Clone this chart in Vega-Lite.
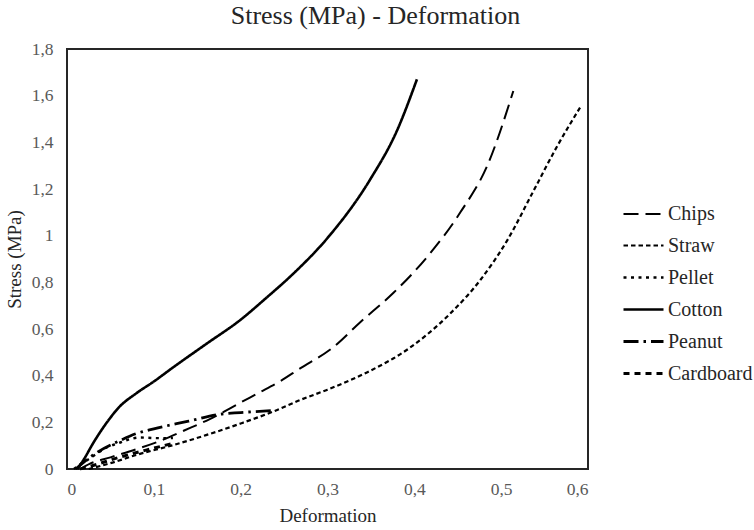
{
  "$schema": "https://vega.github.io/schema/vega-lite/v6.json",
  "width": 521,
  "height": 420,
  "autosize": {"type": "none"},
  "padding": {"left": 67, "top": 49, "right": 166, "bottom": 61},
  "background": "white",
  "title": {"text": "Stress (MPa) - Deformation", "font": "Liberation Serif", "fontSize": 26, "fontWeight": "normal", "color": "#262626", "anchor": "middle", "dx": 48, "offset": 11},
  "config": {
    "view": {"stroke": "#262626", "strokeWidth": 2},
    "axis": {"grid": false, "domain": false, "ticks": false, "labelFont": "Liberation Serif", "labelFontSize": 17.5, "labelColor": "#595959", "titleFont": "Liberation Serif", "titleFontSize": 19, "titleFontWeight": "normal", "titleColor": "#262626"},
    "legend": {"labelFont": "Liberation Serif", "labelFontSize": 20, "labelColor": "#262626"}
  },
  "data": {"values": [
    {"s":"Chips","d":0.015,"v":0.0},{"s":"Chips","d":0.026,"v":0.022},{"s":"Chips","d":0.05,"v":0.05},{"s":"Chips","d":0.08,"v":0.085},{"s":"Chips","d":0.107,"v":0.12},{"s":"Chips","d":0.135,"v":0.165},{"s":"Chips","d":0.165,"v":0.215},{"s":"Chips","d":0.2,"v":0.285},{"s":"Chips","d":0.22,"v":0.325},{"s":"Chips","d":0.245,"v":0.375},{"s":"Chips","d":0.268,"v":0.43},{"s":"Chips","d":0.306,"v":0.52},{"s":"Chips","d":0.338,"v":0.63},{"s":"Chips","d":0.376,"v":0.755},{"s":"Chips","d":0.415,"v":0.91},{"s":"Chips","d":0.453,"v":1.1},{"s":"Chips","d":0.484,"v":1.3},{"s":"Chips","d":0.514,"v":1.62},
    {"s":"Straw","d":0.025,"v":0.0},{"s":"Straw","d":0.05,"v":0.025},{"s":"Straw","d":0.084,"v":0.065},{"s":"Straw","d":0.12,"v":0.1},{"s":"Straw","d":0.16,"v":0.145},{"s":"Straw","d":0.2,"v":0.195},{"s":"Straw","d":0.24,"v":0.25},{"s":"Straw","d":0.268,"v":0.295},{"s":"Straw","d":0.3,"v":0.34},{"s":"Straw","d":0.346,"v":0.415},{"s":"Straw","d":0.395,"v":0.52},{"s":"Straw","d":0.441,"v":0.665},{"s":"Straw","d":0.476,"v":0.81},{"s":"Straw","d":0.507,"v":0.98},{"s":"Straw","d":0.537,"v":1.19},{"s":"Straw","d":0.564,"v":1.38},{"s":"Straw","d":0.591,"v":1.55},
    {"s":"Pellet","d":0.008,"v":0.0},{"s":"Pellet","d":0.015,"v":0.02},{"s":"Pellet","d":0.024,"v":0.04},{"s":"Pellet","d":0.036,"v":0.07},{"s":"Pellet","d":0.047,"v":0.095},{"s":"Pellet","d":0.059,"v":0.11},{"s":"Pellet","d":0.07,"v":0.125},{"s":"Pellet","d":0.084,"v":0.135},{"s":"Pellet","d":0.098,"v":0.133},{"s":"Pellet","d":0.11,"v":0.132},{"s":"Pellet","d":0.122,"v":0.133},
    {"s":"Cotton","d":0.012,"v":0.0},{"s":"Cotton","d":0.02,"v":0.045},{"s":"Cotton","d":0.03,"v":0.11},{"s":"Cotton","d":0.046,"v":0.2},{"s":"Cotton","d":0.06,"v":0.265},{"s":"Cotton","d":0.08,"v":0.325},{"s":"Cotton","d":0.1,"v":0.375},{"s":"Cotton","d":0.122,"v":0.435},{"s":"Cotton","d":0.16,"v":0.535},{"s":"Cotton","d":0.2,"v":0.64},{"s":"Cotton","d":0.23,"v":0.735},{"s":"Cotton","d":0.26,"v":0.835},{"s":"Cotton","d":0.3,"v":0.99},{"s":"Cotton","d":0.349,"v":1.24},{"s":"Cotton","d":0.38,"v":1.45},{"s":"Cotton","d":0.403,"v":1.67},
    {"s":"Peanut","d":0.01,"v":0.0},{"s":"Peanut","d":0.03,"v":0.06},{"s":"Peanut","d":0.06,"v":0.12},{"s":"Peanut","d":0.08,"v":0.152},{"s":"Peanut","d":0.1,"v":0.172},{"s":"Peanut","d":0.14,"v":0.205},{"s":"Peanut","d":0.176,"v":0.235},{"s":"Peanut","d":0.2,"v":0.242},{"s":"Peanut","d":0.235,"v":0.25},
    {"s":"Cardboard","d":0.015,"v":0.0},{"s":"Cardboard","d":0.03,"v":0.015},{"s":"Cardboard","d":0.06,"v":0.05},{"s":"Cardboard","d":0.09,"v":0.08},{"s":"Cardboard","d":0.12,"v":0.108}
  ]},
  "mark": {"type": "line", "color": "#000000", "strokeCap": "butt", "interpolate": "monotone"},
  "encoding": {
    "x": {"field": "d", "type": "quantitative", "title": "Deformation", "scale": {"domain": [0, 0.6], "nice": false}, "axis": {"values": [0,0.1,0.2,0.3,0.4,0.5,0.6], "labelExpr": "replace(format(datum.value, '.1~f'), '.', ',')", "labelPadding": 11, "titlePadding": 9}},
    "y": {"field": "v", "type": "quantitative", "title": "Stress (MPa)", "scale": {"domain": [0, 1.8], "nice": false}, "axis": {"values": [0,0.2,0.4,0.6,0.8,1,1.2,1.4,1.6,1.8], "labelExpr": "replace(format(datum.value, '.1~f'), '.', ',')", "labelPadding": 14, "titlePadding": 7}},
    "strokeDash": {"field": "s", "type": "nominal", "title": null,
      "scale": {"domain": ["Chips","Straw","Pellet","Cotton","Peanut","Cardboard"], "range": [[15,7],[4.5,3],[3,4.5],[1,0],[15,5,2.5,5],[6,5]]},
      "legend": {"orient": "none", "legendX": 555, "legendY": 144, "symbolType": "stroke", "symbolSize": 1600, "symbolStrokeColor": "#000000", "symbolStrokeWidth": 3, "rowPadding": -2, "labelOffset": 3}},
    "strokeWidth": {"field": "s", "type": "nominal", "legend": null,
      "scale": {"domain": ["Chips","Straw","Pellet","Cotton","Peanut","Cardboard"], "range": [2, 3, 4.5, 2, 2, 2.6]}}
  }
}
